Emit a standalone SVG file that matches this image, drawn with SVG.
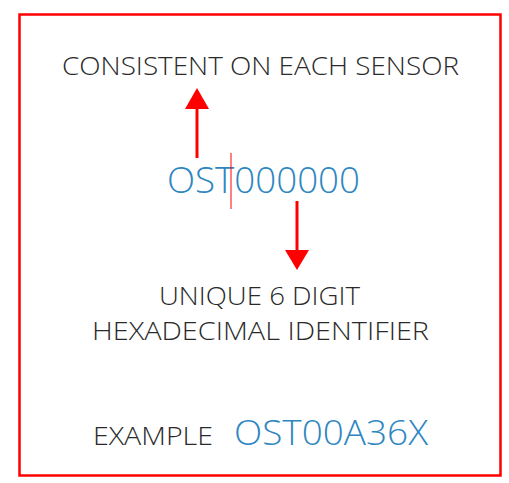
<svg xmlns="http://www.w3.org/2000/svg" width="509" height="483" viewBox="0 0 509 483">
<defs>
<style>
.t{font-family:"Open Sans","Liberation Sans",sans-serif;font-weight:300}
.dark{fill:#2a2a2a}
.blue{fill:#2e86c1}
.red{stroke:#ff0000;fill:none}
</style>
</defs>
<rect width="509" height="483" fill="#fff"/>
<rect x="19.5" y="14.5" width="481" height="461" class="red" stroke-width="2.5"/>
<g id="consistent"><text class="t dark" x="62" y="75" font-size="26" textLength="397" lengthAdjust="spacingAndGlyphs">CONSISTENT ON EACH SENSOR</text></g>
<g id="code"><text class="t blue" x="167" y="193" font-size="36" textLength="193" lengthAdjust="spacingAndGlyphs">OST000000</text>
<line x1="231" y1="153" x2="231" y2="209" class="red" stroke-width="1"/></g>
<g id="unique"><text class="t dark" x="159" y="305" font-size="26" textLength="201" lengthAdjust="spacingAndGlyphs">UNIQUE 6 DIGIT</text>
<text class="t dark" x="92" y="340" font-size="26" textLength="337" lengthAdjust="spacingAndGlyphs">HEXADECIMAL IDENTIFIER</text></g>
<g id="example"><text class="t dark" x="93" y="445" font-size="26" textLength="120" lengthAdjust="spacingAndGlyphs">EXAMPLE</text>
<text class="t blue" x="234" y="445" font-size="35" textLength="194" lengthAdjust="spacingAndGlyphs">OST00A36X</text></g>
<g id="connectors">
<line x1="197" y1="158" x2="197" y2="106" class="red" stroke-width="3"/>
<polygon points="197,88 209,109 185,109" fill="#ff0000"/>
<line x1="297" y1="201" x2="297" y2="252" class="red" stroke-width="3"/>
<polygon points="297,270 285,250 309,250" fill="#ff0000"/>
</g>
</svg>
